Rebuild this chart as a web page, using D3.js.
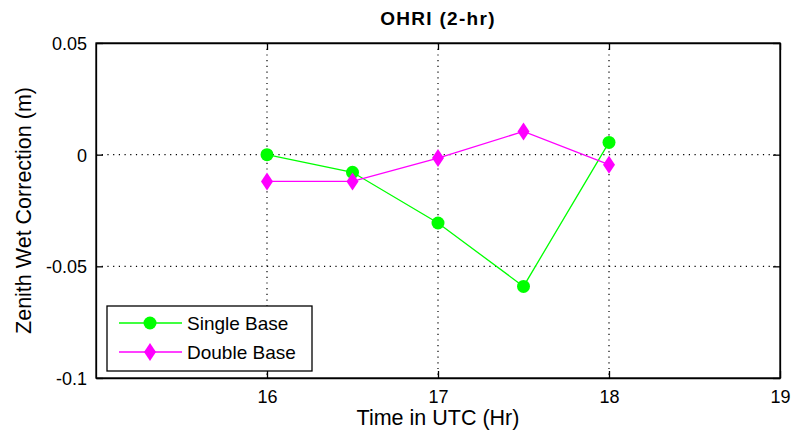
<!DOCTYPE html>
<html>
<head>
<meta charset="utf-8">
<script src="https://cdn.jsdelivr.net/npm/d3@7"></script>
<style>
  body { margin: 0; background: #fff; }
  text { font-family: "Liberation Sans", Arial, sans-serif; }
</style>
</head>
<body>
<div id="chart"></div>
<script>
// Data
var hours = [16, 16.5, 17, 17.5, 18];
var singleBase = [0, -0.0079, -0.0306, -0.059, 0.0055];
var doubleBase = [-0.012, -0.012, -0.0015, 0.0104, -0.0045];
var xTicks = [16, 17, 18, 19];
var yTicks = [-0.1, -0.05, 0, 0.05];

var width = 792, height = 444;
var plotLeft = 96, plotRight = 780, plotTop = 43, plotBottom = 378;

var svg = d3.select('#chart')
            .append('svg')
            .attr('width', width)
            .attr('height', height);

var x = d3.scaleLinear().domain([15, 19]).range([plotLeft, plotRight]);
var y = d3.scaleLinear().domain([-0.1, 0.05]).range([plotBottom, plotTop]);

// Dotted grid
var grid = svg.append('g').attr('stroke', '#000').attr('stroke-dasharray', '1.2,4.5').attr('stroke-width', 1.2);
grid.selectAll('.vg').data([16, 17, 18]).enter().append('line')
    .attr('x1', function(d) { return x(d); }).attr('x2', function(d) { return x(d); })
    .attr('y1', plotTop).attr('y2', plotBottom);
grid.selectAll('.hg').data([0, -0.05]).enter().append('line')
    .attr('y1', function(d) { return y(d); }).attr('y2', function(d) { return y(d); })
    .attr('x1', plotLeft).attr('x2', plotRight);

// Axes with inward ticks (box style)
var xAxis = d3.axisBottom(x).tickValues(xTicks).tickFormat(d3.format('d'))
              .tickSizeInner(-7).tickSizeOuter(0);
var yAxis = d3.axisLeft(y).tickValues(yTicks).tickFormat(function(d) { return d === 0 ? '0' : String(d); })
              .tickSizeInner(-7).tickSizeOuter(0).tickPadding(9);

var gx = svg.append('g').attr('transform', 'translate(0,' + plotBottom + ')').call(xAxis);
var gy = svg.append('g').attr('transform', 'translate(' + plotLeft + ',0)').call(yAxis);
svg.append('g').attr('transform', 'translate(0,' + plotTop + ')')
   .call(d3.axisTop(x).tickValues(xTicks).tickSizeInner(-7).tickSizeOuter(0).tickFormat(''));
svg.append('g').attr('transform', 'translate(' + plotRight + ',0)')
   .call(d3.axisRight(y).tickValues(yTicks).tickSizeInner(-7).tickSizeOuter(0).tickFormat(''));

svg.selectAll('.domain').attr('stroke', '#000').attr('stroke-width', 1.3);
svg.selectAll('.tick line').attr('stroke', '#000').attr('stroke-width', 1.3);
svg.selectAll('.tick text').attr('font-size', 18).attr('fill', '#000')
   .attr('font-family', '"Liberation Sans", Arial, sans-serif');
gx.selectAll('.tick text').attr('y', 25).attr('dy', 0);
gy.selectAll('.tick text').attr('dy', '0.36em');

// Box outline
svg.append('rect').attr('x', plotLeft).attr('y', plotTop)
   .attr('width', plotRight - plotLeft).attr('height', plotBottom - plotTop)
   .attr('fill', 'none').attr('stroke', '#000').attr('stroke-width', 1.3);

var line = d3.line()
             .x(function(d, i) { return x(hours[i]); })
             .y(function(d) { return y(d); });

function diamond(g, cx, cy, color) {
  g.append('path')
   .attr('d', 'M' + cx + ',' + (cy - 9) + 'L' + (cx + 6) + ',' + cy + 'L' + cx + ',' + (cy + 9) + 'L' + (cx - 6) + ',' + cy + 'Z')
   .attr('fill', color);
}

// Single Base
svg.append('path').datum(singleBase).attr('d', line)
   .attr('fill', 'none').attr('stroke', '#00ff00').attr('stroke-width', 1.3);
svg.selectAll('.sb').data(singleBase).enter().append('circle')
   .attr('cx', function(d, i) { return x(hours[i]); })
   .attr('cy', function(d) { return y(d); })
   .attr('r', 6.5).attr('fill', '#00ff00');

// Double Base
svg.append('path').datum(doubleBase).attr('d', line)
   .attr('fill', 'none').attr('stroke', '#ff00ff').attr('stroke-width', 1.3);
var dm = svg.append('g');
doubleBase.forEach(function(d, i) { diamond(dm, x(hours[i]), y(d), '#ff00ff'); });

// Legend
var lg = svg.append('g');
lg.append('rect').attr('x', 107).attr('y', 306).attr('width', 205).attr('height', 65)
  .attr('fill', '#fff').attr('stroke', '#000').attr('stroke-width', 1.3);
lg.append('line').attr('x1', 119).attr('x2', 182).attr('y1', 323).attr('y2', 323)
  .attr('stroke', '#00ff00').attr('stroke-width', 1.3);
lg.append('circle').attr('cx', 150).attr('cy', 323).attr('r', 6.5).attr('fill', '#00ff00');
lg.append('line').attr('x1', 119).attr('x2', 182).attr('y1', 352).attr('y2', 352)
  .attr('stroke', '#ff00ff').attr('stroke-width', 1.3);
diamond(lg, 150, 352, '#ff00ff');
lg.append('text').attr('x', 187).attr('y', 323).attr('dy', '0.36em').attr('font-size', 19).text('Single Base');
lg.append('text').attr('x', 187).attr('y', 352).attr('dy', '0.36em').attr('font-size', 19).text('Double Base');

// Titles
svg.append('text').attr('x', (plotLeft + plotRight) / 2).attr('y', 25).attr('text-anchor', 'middle')
   .attr('font-size', 19).attr('font-weight', 'bold').attr('letter-spacing', 1.3).text('OHRI (2-hr)');
svg.append('text').attr('x', (plotLeft + plotRight) / 2).attr('y', 425).attr('text-anchor', 'middle')
   .attr('font-size', 21.5).text('Time in UTC (Hr)');
svg.append('text').attr('transform', 'translate(31,' + ((plotTop + plotBottom) / 2) + ') rotate(-90)')
   .attr('text-anchor', 'middle').attr('font-size', 21.5).text('Zenith Wet Correction (m)');
</script>
</body>
</html>
